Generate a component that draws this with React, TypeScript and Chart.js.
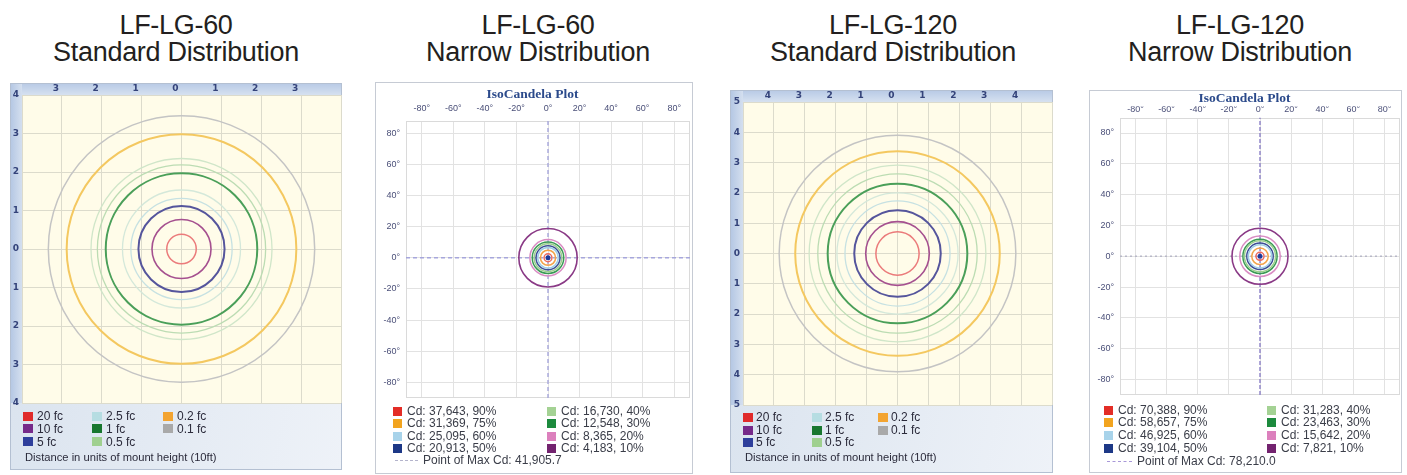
import React, { useEffect, useRef } from 'react';
import { Chart, registerables } from 'chart.js';

Chart.register(...registerables);

// ---------------- data ----------------
const STD_LEVEL_LABELS = ['20 fc', '10 fc', '5 fc', '2.5 fc', '1 fc', '0.5 fc', '0.2 fc', '0.1 fc'];
// contour radii (units of mount height), inner to outer
const STD60_CONTOURS = [0.37, 0.74, 1.08, 1.27, 1.48, 1.9, 2.11, 2.27, 2.88, 3.34];
const STD120_CONTOURS = [0.7, 1.03, 1.4, 1.7, 1.96, 2.26, 2.58, 2.86, 3.31, 3.83];
const STD60_X_TICKS = [-4, -3, -2, -1, 0, 1, 2, 3, 4];
const STD60_Y_TICKS = [-4, -3, -2, -1, 0, 1, 2, 3, 4];
const STD120_X_TICKS = [-5, -4, -3, -2, -1, 0, 1, 2, 3, 4, 5];
const STD120_Y_TICKS = [-5, -4, -3, -2, -1, 0, 1, 2, 3, 4, 5];

const NARROW_TICKS = [-80, -60, -40, -20, 0, 20, 40, 60, 80];
const NARROW_PCT = ['90%', '75%', '60%', '50%', '40%', '30%', '20%', '10%'];
const NARROW60_CD = ['37,643', '31,369', '25,095', '20,913', '16,730', '12,548', '8,365', '4,183'];
const NARROW120_CD = ['70,388', '58,657', '46,925', '39,104', '31,283', '23,463', '15,642', '7,821'];
// contour radii (degrees), 90% ... 10%
const NARROW60_CONTOURS = [2.5, 4.8, 6.5, 7.6, 8.8, 10, 11.5, 18.5];
const NARROW120_CONTOURS = [2.6, 5.3, 7.5, 8.5, 10, 11, 13, 18];
const NARROW60_MAX_CD = '41,905.7';
const NARROW120_MAX_CD = '78,210.0';
const MAX_POINT = [{ x: 0, y: 0 }];
const H_AXIS_60 = [{ x: -90, y: 0 }, { x: 90, y: 0 }];
const V_AXIS_60 = [{ x: 0, y: -90 }, { x: 0, y: 88 }];
const H_AXIS_120 = [{ x: -90, y: 0 }, { x: 90, y: 0 }];
const V_AXIS_120 = [{ x: 0, y: -90 }, { x: 0, y: 90 }];

// ---------------- styles ----------------
const STD_SWATCH_COLORS = ['#e02b2b', '#762a8a', '#2e3f9c', '#b6dde2', '#18772f', '#9fd08f', '#f3a431', '#a9a9a9'];
const STD_LINE_COLORS = ['#eb7b7b', '#a5508f', '#55559c', '#c6e1e2', '#d4e8da', '#4a9f59', '#bcdcb3', '#d0e6c9', '#f4c860', '#c4c4c4'];
const STD_LINE_WIDTHS = [1.5, 1.6, 2, 1.3, 1.3, 2, 1.3, 1.3, 2, 1.5];
const NARROW_COLORS = ['#e32d26', '#f2a41f', '#a8d3ea', '#1d3886', '#a4d294', '#1c8a3d', '#dc80bd', '#73236f'];
const NARROW_LINE_COLORS = ['#ec6a5e', '#f3a44a', '#9fcfe6', '#3d4f96', '#9ccf8e', '#3a9a55', '#d98cc3', '#8a3a86'];
const SANS = '"Liberation Sans", Arial, sans-serif';

const radiusFromScale = (c: any) => {
  const s = c.chart && c.chart.scales && c.chart.scales.x;
  if (!c.raw || !s || c.raw.r === undefined) return 0;
  return Math.abs(s.getPixelForValue(c.raw.r) - s.getPixelForValue(0));
};

const stdFrame = {
  id: 'stdFrame',
  beforeDraw(chart: any) {
    const { ctx, chartArea: a, width: W, height: H } = chart;
    ctx.save();
    let g = ctx.createLinearGradient(0, a.bottom, W, H);
    g.addColorStop(0, '#dbe4ef');
    g.addColorStop(1, '#eef2f8');
    ctx.fillStyle = g;
    ctx.fillRect(0, 0, W, H);
    g = ctx.createLinearGradient(0, 0, 0, a.top);
    g.addColorStop(0, '#b7c9e5');
    g.addColorStop(1, '#d6e1f0');
    ctx.fillStyle = g;
    ctx.fillRect(0, 0, W, a.top);
    g = ctx.createLinearGradient(0, 0, a.left, 0);
    g.addColorStop(0, '#b3c6e3');
    g.addColorStop(1, '#d4dfef');
    ctx.fillStyle = g;
    ctx.fillRect(0, 0, a.left, a.bottom);
    ctx.fillStyle = '#fffce9';
    ctx.fillRect(a.left, a.top, a.right - a.left, a.bottom - a.top);
    ctx.strokeStyle = '#b4c0d2';
    ctx.lineWidth = 1;
    ctx.strokeRect(0.5, 0.5, W - 1, H - 1);
    ctx.restore();
  },
};

const narrowFrame = {
  id: 'narrowFrame',
  beforeDraw(chart: any) {
    const { ctx, width: W, height: H } = chart;
    ctx.save();
    ctx.fillStyle = '#ffffff';
    ctx.fillRect(0, 0, W, H);
    ctx.strokeStyle = '#c6cbd4';
    ctx.lineWidth = 1;
    ctx.strokeRect(0.5, 0.5, W - 1, H - 1);
    ctx.restore();
  },
  beforeDatasetsDraw(chart: any) {
    const { ctx, chartArea: a } = chart;
    ctx.save();
    ctx.strokeStyle = '#dadada';
    ctx.lineWidth = 1;
    ctx.strokeRect(Math.round(a.left) + 0.5, Math.round(a.top) + 0.5, Math.round(a.right - a.left) - 1, Math.round(a.bottom - a.top) - 1);
    ctx.restore();
  },
};

type StdProps = {
  left: number; top: number; width: number; height: number;
  leftW: number; topH: number; padRight: number; padBottom: number;
  range: number; xTicks: number[]; yTicks: number[]; xLabelMax: number; contours: number[];
};

function StdChart(p: StdProps) {
  const ref = useRef<HTMLCanvasElement>(null);
  useEffect(() => {
    const cv = ref.current as HTMLCanvasElement;
    const datasets: any[] = p.contours.map((r, i) => ({
      label: 'contour ' + (i + 1),
      data: [{ x: 0, y: 0, r }],
      pointStyle: 'circle',
      pointRadius: radiusFromScale,
      pointHoverRadius: radiusFromScale,
      pointBackgroundColor: 'rgba(0,0,0,0)',
      pointBorderColor: STD_LINE_COLORS[i],
      pointBorderWidth: STD_LINE_WIDTHS[i],
    }));
    const tickFont = { family: '"DejaVu Sans", sans-serif', size: 9, weight: 'bold' };
    const chart = new Chart(cv, {
      type: 'scatter',
      data: { datasets },
      options: {
        responsive: false,
        animation: false,
        events: [],
        layout: { autoPadding: false, padding: { left: 0, top: 0, right: p.padRight, bottom: p.padBottom } },
        plugins: { legend: { display: false }, tooltip: { enabled: false }, title: { display: false } },
        scales: {
          x: {
            type: 'linear', position: 'top', min: -p.range, max: p.range,
            afterBuildTicks: (ax: any) => { ax.ticks = p.xTicks.map((v) => ({ value: v })); },
            afterFit: (ax: any) => { ax.height = p.topH; },
            grid: { color: '#dcdbcc', drawTicks: false, lineWidth: 1 },
            border: { display: false },
            ticks: {
              padding: 1, labelOffset: -6, autoSkip: false, maxRotation: 0, color: '#34437a', font: tickFont,
              callback: (v: any) => (Math.abs(v) <= p.xLabelMax ? String(Math.abs(v)) : ''),
            },
          },
          y: {
            type: 'linear', position: 'left', min: -p.range, max: p.range,
            afterBuildTicks: (ax: any) => { ax.ticks = p.yTicks.map((v) => ({ value: v })); },
            afterFit: (ax: any) => { ax.width = p.leftW; },
            grid: { color: '#dcdbcc', drawTicks: false, lineWidth: 1 },
            border: { display: false },
            ticks: {
              padding: 3, autoSkip: false, color: '#34437a', font: tickFont,
              callback: (v: any) => String(Math.abs(v)),
            },
          },
        },
      } as any,
      plugins: [stdFrame],
    });
    return () => chart.destroy();
  }, []);
  return (
    <canvas ref={ref} width={p.width} height={p.height}
      style={{ position: 'absolute', left: p.left, top: p.top, width: p.width, height: p.height }} />
  );
}

type NarrowProps = {
  left: number; top: number; width: number; height: number;
  leftW: number; titlePadTop: number; axisH: number; padRight: number; padBottom: number;
  yMin: number; yMax: number; contours: number[]; hAxis: any[]; vAxis: any[];
  hColor: string; vColor: string; hDash: number[]; vDash: number[]; labelPad: number;
};

function NarrowChart(p: NarrowProps) {
  const ref = useRef<HTMLCanvasElement>(null);
  useEffect(() => {
    const cv = ref.current as HTMLCanvasElement;
    const datasets: any[] = [
      {
        label: 'Point of Max Cd', data: MAX_POINT, order: 0,
        pointRadius: 2.5, pointBackgroundColor: '#1e3a9a', pointBorderColor: '#1e3a9a', pointBorderWidth: 0,
      },
      ...p.contours.map((r, i) => ({
        label: 'Cd ' + NARROW_PCT[i],
        data: [{ x: 0, y: 0, r }],
        order: 5 + i,
        pointStyle: 'circle',
        pointRadius: radiusFromScale,
        pointHoverRadius: radiusFromScale,
        pointBackgroundColor: 'rgba(0,0,0,0)',
        pointBorderColor: NARROW_LINE_COLORS[i],
        pointBorderWidth: i === 7 ? 1.6 : 1.5,
      })),
      {
        label: 'h axis', data: p.hAxis, order: 30, showLine: true, pointRadius: 0,
        borderColor: p.hColor, borderWidth: 1.4, borderDash: p.hDash,
      },
      {
        label: 'v axis', data: p.vAxis, order: 31, showLine: true, pointRadius: 0,
        borderColor: p.vColor, borderWidth: 1.4, borderDash: p.vDash,
      },
    ];
    const tickFont = { family: SANS, size: 9 };
    const chart = new Chart(cv, {
      type: 'scatter',
      data: { datasets },
      options: {
        responsive: false,
        animation: false,
        events: [],
        layout: { autoPadding: false, padding: { left: 0, top: 0, right: p.padRight, bottom: p.padBottom } },
        plugins: {
          legend: { display: false },
          tooltip: { enabled: false },
          title: {
            display: true, text: 'IsoCandela Plot', color: '#2b4a8b',
            font: { family: '"Liberation Serif", "DejaVu Serif", serif', size: 13.5, weight: 'bold' },
            padding: { top: p.titlePadTop, bottom: 0 },
          },
        },
        scales: {
          x: {
            type: 'linear', position: 'top', min: -90, max: 90,
            afterBuildTicks: (ax: any) => { ax.ticks = NARROW_TICKS.map((v) => ({ value: v })); },
            afterFit: (ax: any) => { ax.height = p.axisH; },
            grid: { color: '#e2e2e2', drawTicks: false, lineWidth: 1 },
            border: { display: false },
            ticks: {
              padding: p.labelPad, autoSkip: false, maxRotation: 0, color: '#4a4f78', font: tickFont,
              callback: (v: any) => v + '°',
            },
          },
          y: {
            type: 'linear', position: 'left', min: p.yMin, max: p.yMax,
            afterBuildTicks: (ax: any) => { ax.ticks = NARROW_TICKS.map((v) => ({ value: v })); },
            afterFit: (ax: any) => { ax.width = p.leftW; },
            grid: { color: '#e2e2e2', drawTicks: false, lineWidth: 1 },
            border: { display: false },
            ticks: {
              padding: 6, autoSkip: false, color: '#4a4f78', font: tickFont,
              callback: (v: any) => v + '°',
            },
          },
        },
      } as any,
      plugins: [narrowFrame],
    });
    return () => chart.destroy();
  }, []);
  return (
    <canvas ref={ref} width={p.width} height={p.height}
      style={{ position: 'absolute', left: p.left, top: p.top, width: p.width, height: p.height }} />
  );
}

function Heading({ cx, lines }: { cx: number; lines: string[] }) {
  return (
    <div style={{
      position: 'absolute', left: cx - 200, top: 12, width: 400, textAlign: 'center',
      fontFamily: SANS, fontSize: 27, lineHeight: '27px', letterSpacing: '-0.3px', color: '#231f20',
    }}>
      {lines.map((l, i) => <div key={i}>{l}</div>)}
    </div>
  );
}

function StdLegend({ colX, rowY, noteX, noteY, gap }: { colX: number[]; rowY: number[]; noteX: number; noteY: number; gap: number }) {
  return (
    <>
      {STD_LEVEL_LABELS.map((lab, i) => {
        const c = Math.floor(i / 3);
        const r = i % 3;
        return (
          <div key={i} style={{
            position: 'absolute', left: colX[c], top: rowY[r] - 7, height: 14, display: 'flex', alignItems: 'center',
            fontFamily: SANS, fontSize: 12, color: '#2b2b3b', whiteSpace: 'nowrap',
          }}>
            <span style={{ display: 'inline-block', width: 10, height: 9, background: STD_SWATCH_COLORS[i], marginRight: gap }} />
            {lab}
          </div>
        );
      })}
      <div style={{
        position: 'absolute', left: noteX, top: noteY - 7, lineHeight: '14px', fontFamily: SANS, fontSize: 11.2,
        color: '#2b2b3b', whiteSpace: 'nowrap',
      }}>Distance in units of mount height (10ft)</div>
    </>
  );
}

function NarrowLegend({ colX, rowY, cd, maxCd, maxY, dashX, dashW, textX, dashColor }: {
  colX: number[]; rowY: number[]; cd: string[]; maxCd: string; maxY: number; dashX: number; dashW: number; textX: number; dashColor: string;
}) {
  return (
    <>
      {NARROW_PCT.map((pct, i) => {
        const c = Math.floor(i / 4);
        const r = i % 4;
        return (
          <div key={i} style={{
            position: 'absolute', left: colX[c], top: rowY[r] - 7, height: 14, display: 'flex', alignItems: 'center',
            fontFamily: SANS, fontSize: 12, color: '#3a3d48', whiteSpace: 'nowrap',
          }}>
            <span style={{ display: 'inline-block', width: 9, height: 9, background: NARROW_COLORS[i], marginRight: 5 }} />
            {'Cd: ' + cd[i] + ', ' + pct}
          </div>
        );
      })}
      <span style={{ position: 'absolute', left: dashX, top: maxY, width: dashW, height: 0, borderTop: '1.5px dashed ' + dashColor }} />
      <div style={{
        position: 'absolute', left: textX, top: maxY - 7, lineHeight: '14px', fontFamily: SANS, fontSize: 12,
        color: '#3a3d48', whiteSpace: 'nowrap',
      }}>{'Point of Max Cd: ' + maxCd}</div>
    </>
  );
}

export default function App() {
  return (
    <div style={{ position: 'absolute', left: 0, top: 0, width: 1407, height: 475, background: '#ffffff', overflow: 'hidden' }}>
      <Heading cx={176} lines={['LF-LG-60', 'Standard Distribution']} />
      <Heading cx={538} lines={['LF-LG-60', 'Narrow Distribution']} />
      <Heading cx={893} lines={['LF-LG-120', 'Standard Distribution']} />
      <Heading cx={1240} lines={['LF-LG-120', 'Narrow Distribution']} />

      <StdChart left={10} top={83} width={332} height={387} leftW={12} topH={12} padRight={1} padBottom={67}
        range={4} xTicks={STD60_X_TICKS} yTicks={STD60_Y_TICKS} xLabelMax={3} contours={STD60_CONTOURS} />
      <StdLegend colX={[23, 92, 163]} rowY={[416, 428.5, 441.5]} noteX={25} noteY={457} gap={4} />

      <NarrowChart left={375} top={82} width={318} height={392} leftW={31} titlePadTop={4} axisH={18.4}
        padRight={3} padBottom={76} yMin={-90} yMax={88} contours={NARROW60_CONTOURS}
        hAxis={H_AXIS_60} vAxis={V_AXIS_60} hColor="#a6a6dc" vColor="#a6a6dc" hDash={[4, 3]} vDash={[4, 3]} labelPad={7} />
      <NarrowLegend colX={[393, 547]} rowY={[411, 423, 436, 448]} cd={NARROW60_CD} maxCd={NARROW60_MAX_CD}
        maxY={460} dashX={395} dashW={23} textX={423} dashColor="#b4b4cc" />

      <StdChart left={730} top={90} width={323} height={383} leftW={13} topH={12} padRight={1} padBottom={68}
        range={5} xTicks={STD120_X_TICKS} yTicks={STD120_Y_TICKS} xLabelMax={4} contours={STD120_CONTOURS} />
      <StdLegend colX={[743, 812, 878]} rowY={[417, 430, 442]} noteX={745} noteY={457} gap={3} />

      <NarrowChart left={1089} top={90} width={313} height={383} leftW={31} titlePadTop={0} axisH={11.4}
        padRight={2} padBottom={78} yMin={-90} yMax={90} contours={NARROW120_CONTOURS}
        hAxis={H_AXIS_120} vAxis={V_AXIS_120} hColor="#b8b8c8" vColor="#8c80c8" hDash={[2, 3]} vDash={[4, 2]} labelPad={3} />
      <NarrowLegend colX={[1104, 1267]} rowY={[410, 422, 435, 448]} cd={NARROW120_CD} maxCd={NARROW120_MAX_CD}
        maxY={461} dashX={1107} dashW={25} textX={1137} dashColor="#a898d8" />
    </div>
  );
}
